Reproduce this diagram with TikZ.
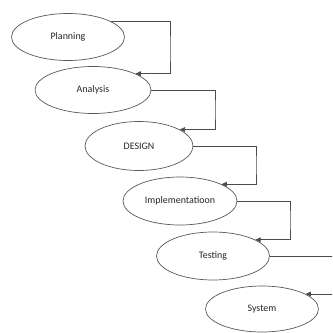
\documentclass[tikz,border=0pt]{standalone}
\usepackage{fontspec}
\setmainfont{Carlito}
\usetikzlibrary{shapes.geometric,arrows.meta}
\tikzset{
  phase/.style={ellipse,draw=black!65,line width=0.6pt,minimum width=3.39cm,
    minimum height=1.41cm,inner sep=0pt,text=black!85,
    font=\fontsize{8.5}{10}\selectfont},
  flow/.style={draw=black!70,line width=0.6pt,-{Triangle[length=4.5pt,width=4pt]}}
}
\begin{document}
\begin{tikzpicture}[x=0.03cm,y=-0.03cm]
  \useasboundingbox (0,0) rectangle (332,333);
  \clip (0,0) rectangle (332,333);
  % phases
  \node[phase] (planning) at (68,37) {Planning};
  \node[phase,minimum width=3.48cm] (analysis) at (93,90) {Analysis};
  \node[phase,minimum width=3.24cm,minimum height=1.47cm] (design) at (139,146) {DESIGN};
  \node[phase,minimum width=3.42cm,minimum height=1.44cm] (implementation) at (180,201) {Implementatioon};
  \node[phase,minimum height=1.44cm] (testing) at (213,256) {Testing};
  \node[phase,minimum height=1.38cm] (system) at (262,309) {System};
  %
  \coordinate (r1) at (170,50);
  \coordinate (r2) at (215,110);
  \coordinate (r3) at (256,165);
  \coordinate (r4) at (290,220);
  \coordinate (r5) at (345,275);
  \draw[flow] (planning.20) -| (r1) |- (analysis.21);
  \draw[flow] (analysis.east) -| (r2) |- (design.22);
  \draw[flow] (design.east) -| (r3) |- (implementation.22);
  \draw[flow] (implementation.east) -| (r4) |- (testing.21);
  \draw[flow] (testing.east) -| (r5) |- (system.19);
\end{tikzpicture}
\end{document}
